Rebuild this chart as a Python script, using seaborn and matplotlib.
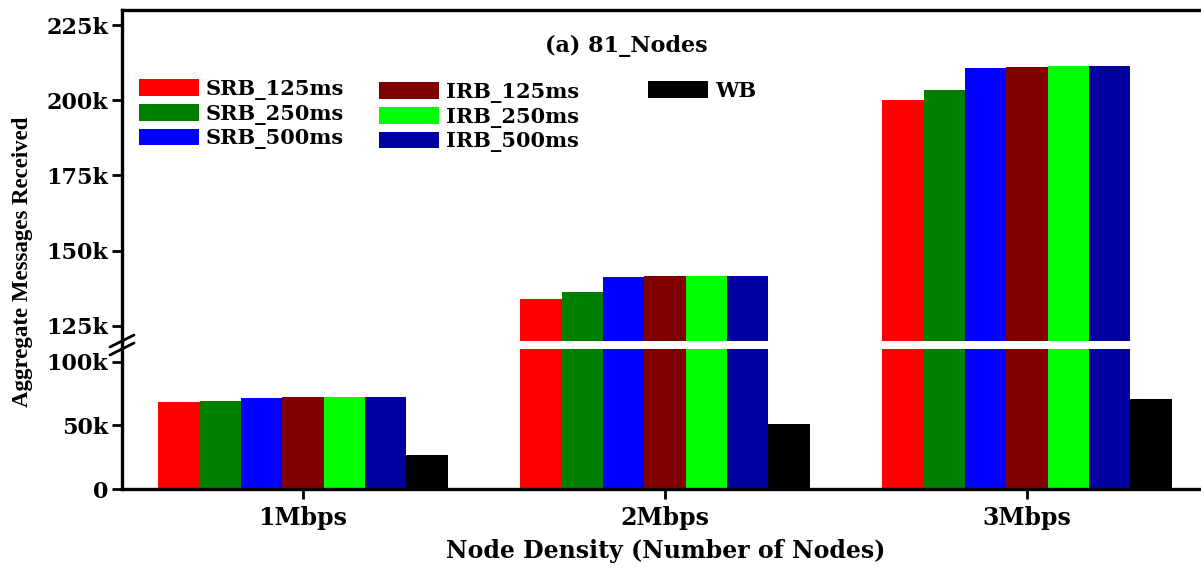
import matplotlib
matplotlib.use("Agg")
import matplotlib.pyplot as plt
import matplotlib.patches as mpatches
from matplotlib.lines import Line2D
import seaborn as sns
import pandas as pd

# ---- data ----
rates = ["1Mbps", "2Mbps", "3Mbps"]
schemes = ["SRB_125ms", "SRB_250ms", "SRB_500ms",
           "IRB_125ms", "IRB_250ms", "IRB_500ms", "WB"]
srb_125 = [68100, 134000, 200100]
srb_250 = [69400, 136200, 203300]
srb_500 = [71700, 141400, 210800]
irb_125 = [72000, 141600, 211100]
irb_250 = [72000, 141600, 211300]
irb_500 = [72000, 141700, 211400]
wb = [26500, 50800, 70500]
colors = ["#FF0000", "#008000", "#0000FF", "#800000", "#00FF00", "#0000A0", "#000000"]

upper_ticks = [125000, 150000, 175000, 200000, 225000]
upper_labels = ["125k", "150k", "175k", "200k", "225k"]
lower_ticks = [0, 50000, 100000]
lower_labels = ["0", "50k", "100k"]

series = [srb_125, srb_250, srb_500, irb_125, irb_250, irb_500, wb]
rows = []
for s, vals in zip(schemes, series):
    for r, v in zip(rates, vals):
        rows.append({"Rate": r, "Scheme": s, "Value": v})
df = pd.DataFrame(rows)

sns.set_style("ticks")
plt.rcParams["font.family"] = ["DejaVu Serif"]
plt.rcParams["font.weight"] = "bold"
for k in ("text.color", "axes.labelcolor", "xtick.color", "ytick.color",
          "axes.edgecolor", "xtick.labelcolor", "ytick.labelcolor"):
    plt.rcParams[k] = "black"

W, H = 1201, 569
fig = plt.figure(figsize=(W / 100, H / 100), dpi=100)

def fx(px):
    return px / W

def fy(py):
    return 1 - py / H

left = fx(122)
width = fx(1208) - fx(122)
ax_up = fig.add_axes([left, fy(341), width, fy(10) - fy(341)])
ax_lo = fig.add_axes([left, fy(489), width, fy(349) - fy(489)])

for ax in (ax_up, ax_lo):
    sns.barplot(data=df, x="Rate", y="Value", hue="Scheme", order=rates,
                hue_order=schemes, palette=colors, width=0.8, linewidth=0,
                saturation=1, legend=False, ax=ax)
    ax.set_xlim(-0.5, 2.5)
    ax.set_xlabel("")
    ax.set_ylabel("")
    ax.spines["right"].set_visible(False)
    for sp in ax.spines.values():
        sp.set_linewidth(2.4)
        sp.set_color("black")
    ax.tick_params(axis="both", direction="out", length=7, width=2,
                   labelsize=16, pad=3, colors="black")

ax_up.set_ylim(120000, 230000)
ax_up.set_yticks(upper_ticks)
ax_up.set_yticklabels(upper_labels, fontweight="bold")
ax_up.spines["bottom"].set_visible(False)
ax_up.tick_params(axis="x", bottom=False, labelbottom=False)

ax_lo.set_ylim(0, 110000)
ax_lo.set_yticks(lower_ticks)
ax_lo.set_yticklabels(lower_labels, fontweight="bold")
ax_lo.spines["top"].set_visible(False)
ax_lo.set_xticks(range(len(rates)))
ax_lo.set_xticklabels(rates, fontsize=17, fontweight="bold")
ax_lo.tick_params(axis="x", pad=5)

# continuous left spine across the break
fig.add_artist(Line2D([fx(122), fx(122)], [fy(341), fy(349)],
                      transform=fig.transFigure, color="black", lw=2.4))
# break marks
for dy in (-4, 4):
    fig.add_artist(Line2D([fx(110), fx(134)], [fy(345 + dy + 6), fy(345 + dy - 6)],
                          transform=fig.transFigure, color="black", lw=2))

# title
fig.text(fx(626), fy(46), "(a) 81_Nodes", ha="center", va="center",
         fontsize=16, fontweight="bold", color="black")

# axis labels
fig.text(fx(666), fy(551), "Node Density (Number of Nodes)", ha="center",
         va="center", fontsize=17, fontweight="bold", color="black")
fig.text(fx(23), fy(262), "Aggregate Messages Received", ha="center",
         va="center", rotation=90, fontsize=16.5, fontweight="bold",
         family=["Liberation Serif"], color="black")

# legends
handles = [mpatches.Patch(facecolor=c, edgecolor="none") for c in colors]
legprops = dict(frameon=False, borderpad=0, borderaxespad=0, handlelength=2.9,
                handleheight=0.86, labelspacing=0.17, handletextpad=0.3,
                loc="upper left", bbox_transform=fig.transFigure,
                labelcolor="black",
                prop={"family": "DejaVu Serif", "weight": "bold", "size": 15})
leg1 = fig.legend(handles[0:3], schemes[0:3], bbox_to_anchor=(fx(139), fy(79)), **legprops)
leg2 = fig.legend(handles[3:6], schemes[3:6], bbox_to_anchor=(fx(379), fy(82)), **legprops)
leg3 = fig.legend(handles[6:7], schemes[6:7], bbox_to_anchor=(fx(648), fy(81)), **legprops)

fig.savefig("out.png", dpi=100)
